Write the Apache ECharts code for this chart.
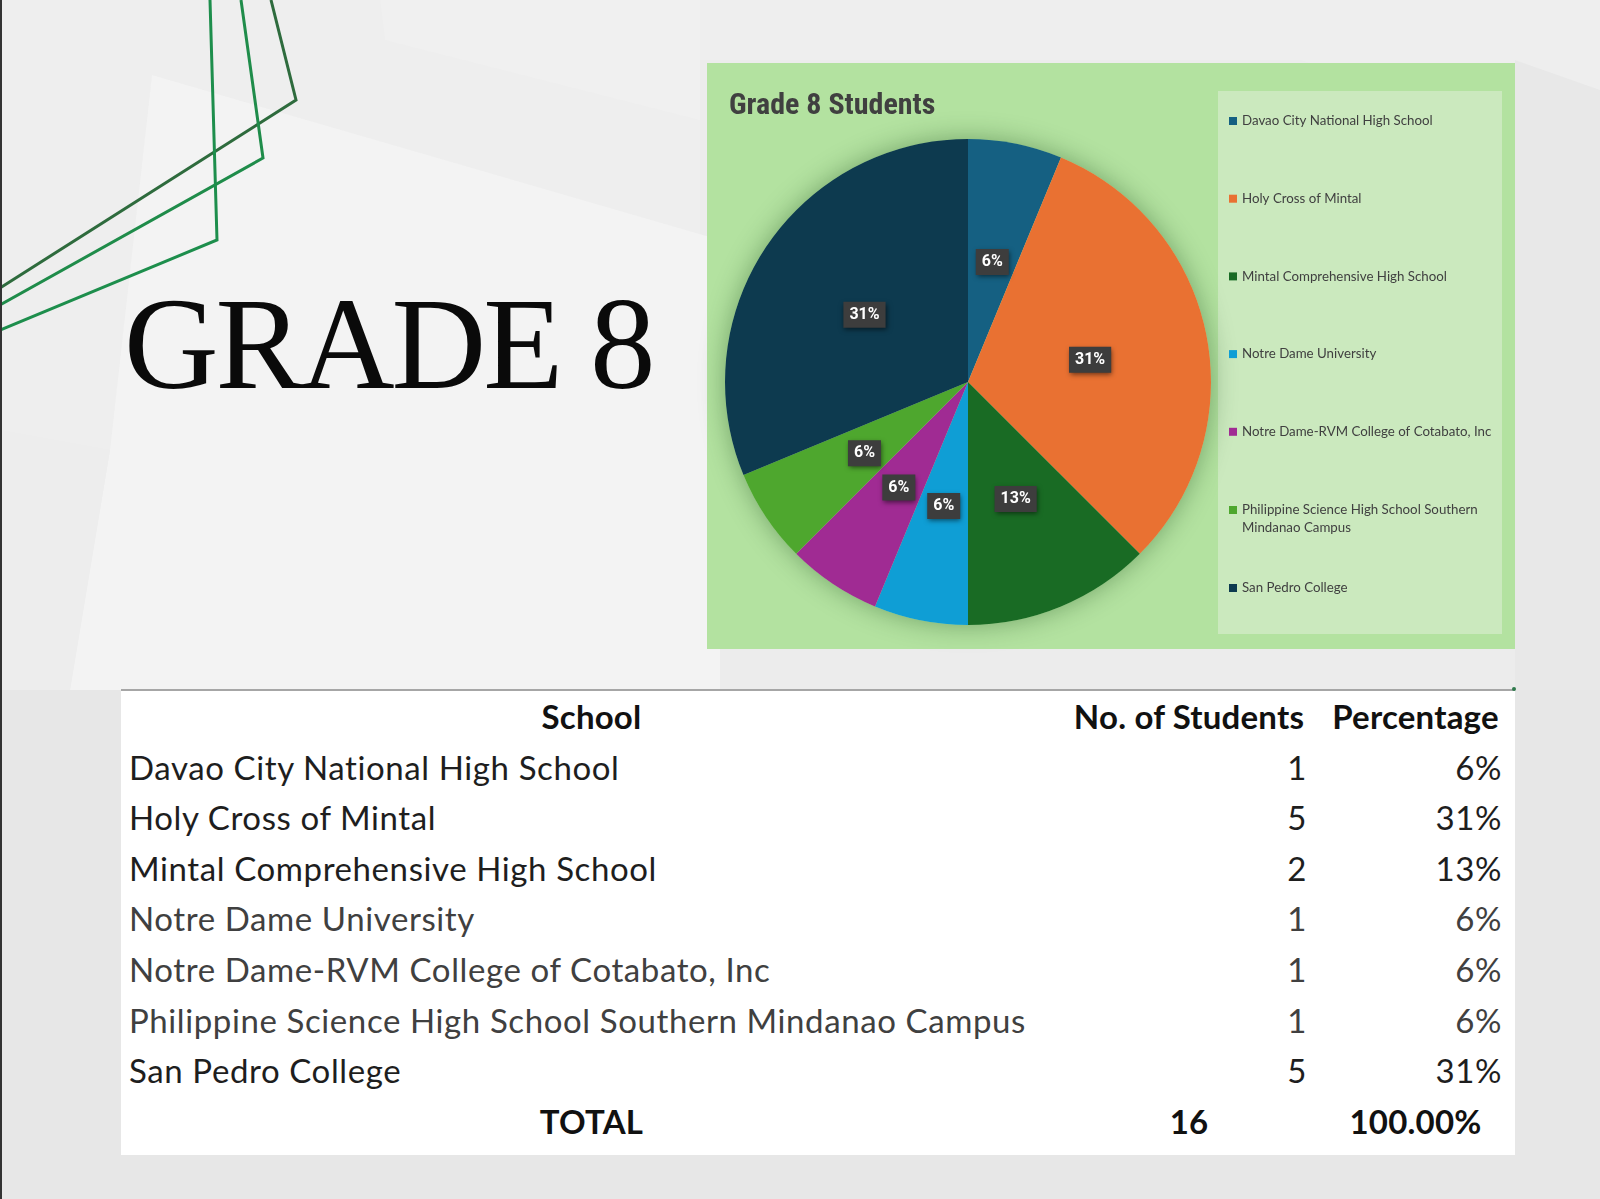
<!DOCTYPE html>
<html>
<head>
<meta charset="utf-8">
<script src="https://cdn.jsdelivr.net/npm/echarts@6/dist/echarts.min.js"></script>
<style>
  html, body { margin:0; padding:0; }
  body { width:1600px; height:1199px; background:#ebebeb; position:relative; overflow:hidden; }
  #bg { position:absolute; left:0; top:0; }
  #grade { position:absolute; left:124px; top:278px; font-family:'Liberation Serif','DejaVu Serif',serif; font-size:131px; line-height:131px; letter-spacing:-3px; color:#0a0a0a; white-space:nowrap; }
  #chart { position:absolute; left:0; top:0; width:1600px; height:1199px; }
  #tbl { position:absolute; left:121px; top:689px; width:1394px; height:466px; background:#fff; border-top:2px solid #a6a6a6; box-sizing:border-box; font-family:Lato,'Noto Sans',sans-serif; font-size:33px; letter-spacing:0.6px; }
  .row { display:flex; height:50.6px; line-height:50.6px; white-space:nowrap; }
  .c1 { width:941px; padding-left:8px; box-sizing:border-box; }
  .c2 { width:254px; padding-right:9px; box-sizing:border-box; text-align:right; }
  .c3 { width:199px; padding-right:13px; box-sizing:border-box; text-align:right; }
  .hdr, .tot { font-weight:bold; color:#111; letter-spacing:0.2px; }
  .hdr div, .tot div { text-align:center; padding:0; }
  #dot { position:absolute; left:1512px; top:687px; width:4px; height:4px; background:#2f7a4c; border-radius:2px; }
</style>
</head>
<body>
<svg id="bg" width="1600" height="1199">
  <rect x="0" y="0" width="1600" height="1199" fill="#ececec"/>
  <polygon points="0,0 700,0 700,235 152,75 110,450 0,430" fill="#eeeeee"/>
  <polygon points="152,75 720,240 720,690 70,690 110,450" fill="#f3f3f3"/>
  <polygon points="380,0 700,0 700,120 385,40" fill="#f0f0f0"/>
  <polygon points="0,430 110,450 70,690 0,690" fill="#ededed"/>
  <polygon points="700,0 1600,0 1600,150 1300,60 700,60" fill="#eeeeee"/>
  <polygon points="1515,60 1600,90 1600,700 1515,690" fill="#e8e8e8"/>
  <polygon points="0,690 1600,690 1600,1199 0,1199" fill="#e7e7e7"/>
  <polyline points="271,0 296,100 0,288" fill="none" stroke="#2e6b3d" stroke-width="3"/>
  <polyline points="241,0 263,158 0,305" fill="none" stroke="#1f8c4a" stroke-width="3"/>
  <polyline points="210,0 217,240 0,330" fill="none" stroke="#1d8e4c" stroke-width="3"/>
  <rect x="0" y="0" width="2" height="1199" fill="#333"/>
</svg>
<div id="grade">GRADE 8</div>
<div id="chart"></div>
<div id="tbl"></div>
<div id="dot"></div>
<script>
// ---- data ----
const schools = [
  'Davao City National High School',
  'Holy Cross of Mintal',
  'Mintal Comprehensive High School',
  'Notre Dame University',
  'Notre Dame-RVM College of Cotabato, Inc',
  'Philippine Science High School Southern Mindanao Campus',
  'San Pedro College'
];
const students = [1, 5, 2, 1, 1, 1, 5];
const percentages = ['6%', '31%', '13%', '6%', '6%', '6%', '31%'];
const totalStudents = 16;
const totalPercentage = '100.00%';
const tableHeaders = ['School', 'No. of Students', 'Percentage'];
const chartTitle = 'Grade 8 Students';

// ---- style ----
const sliceColors = ['#156082', '#E97132', '#196B24', '#0F9ED5', '#A02B93', '#4EA72E', '#0D3A4F'];
const rowColors = ['#1e1e1e', '#1e1e1e', '#1e1e1e', '#404040', '#404040', '#404040', '#1e1e1e'];

const total = students.reduce((a, b) => a + b, 0);
const pieData = schools.map((s, i) => ({ name: s, value: students[i], itemStyle: { color: sliceColors[i] } }));

const legendText = {
  textStyle: { fontFamily: 'Lato, "Noto Sans", sans-serif', fontSize: 13.3, color: '#404040', lineHeight: 18 },
  orient: 'vertical', left: 1229, padding: 0, icon: 'rect', itemWidth: 8, itemHeight: 8,
  selectedMode: false
};

const chart = echarts.init(document.getElementById('chart'), null, { renderer: 'canvas' });
chart.setOption({
  backgroundColor: 'transparent',
  animation: false,
  title: {
    text: chartTitle, left: 729, top: 91, padding: 0,
    textStyle: { fontFamily: '"Liberation Sans Narrow", "Roboto Condensed", Roboto, sans-serif', fontWeight: 'bold', fontSize: 30, color: '#404040' }
  },
  graphic: [
    { type: 'rect', z: -10, shape: { x: 707, y: 63, width: 808, height: 586 }, style: { fill: '#b3e2a0' } },
    { type: 'rect', z: -9, shape: { x: 1218, y: 91, width: 284, height: 543 }, style: { fill: '#cbe9be' } }
  ],
  legend: [
    Object.assign({}, legendText, { data: schools.slice(0, 5), top: 112, itemGap: 59.7 }),
    Object.assign({}, legendText, {
      data: schools.slice(5), top: 483, itemGap: 42,
      formatter: function (name) {
        return name === schools[5] ? '\nPhilippine Science High School Southern\nMindanao Campus' : name;
      }
    })
  ],
  series: [
    {
      type: 'pie', silent: true, center: [968, 382], radius: 243, z: 1,
      label: { show: false }, labelLine: { show: false },
      itemStyle: { color: '#b3e2a0', shadowBlur: 26, shadowColor: 'rgba(20,70,20,0.4)' },
      data: [{ name: 'shadow', value: total }],
      legendHoverLink: false
    },
    {
      type: 'pie', center: [968, 382], radius: 243, startAngle: 90, clockwise: true, z: 2,
      avoidLabelOverlap: false,
      itemStyle: { borderWidth: 0 },
      label: {
        show: true, position: 'inside',
        formatter: function (p) { return Math.round(p.value / total * 100) + '%'; },
        color: '#ffffff', fontWeight: 'bold', fontSize: 16,
        fontFamily: 'Roboto, "Liberation Sans", sans-serif',
        backgroundColor: '#3d3d3d', padding: [5, 6, 5, 6], offset: [0, 2],
        shadowBlur: 5, shadowColor: 'rgba(0,0,0,0.55)', shadowOffsetX: 1, shadowOffsetY: 2
      },
      labelLine: { show: false },
      emphasis: { disabled: true },
      data: pieData
    }
  ]
});

// ---- table ----
const tbl = document.getElementById('tbl');
function addRow(cls, cells, color) {
  const r = document.createElement('div');
  r.className = 'row ' + cls;
  if (color) r.style.color = color;
  cells.forEach((t, i) => {
    const c = document.createElement('div');
    c.className = 'c' + (i + 1);
    c.textContent = t;
    r.appendChild(c);
  });
  tbl.appendChild(r);
}
addRow('hdr', tableHeaders);
schools.forEach((s, i) => addRow('', [s, String(students[i]), percentages[i]], rowColors[i]));
addRow('tot', ['TOTAL', String(totalStudents), totalPercentage]);
</script>
</body>
</html>
